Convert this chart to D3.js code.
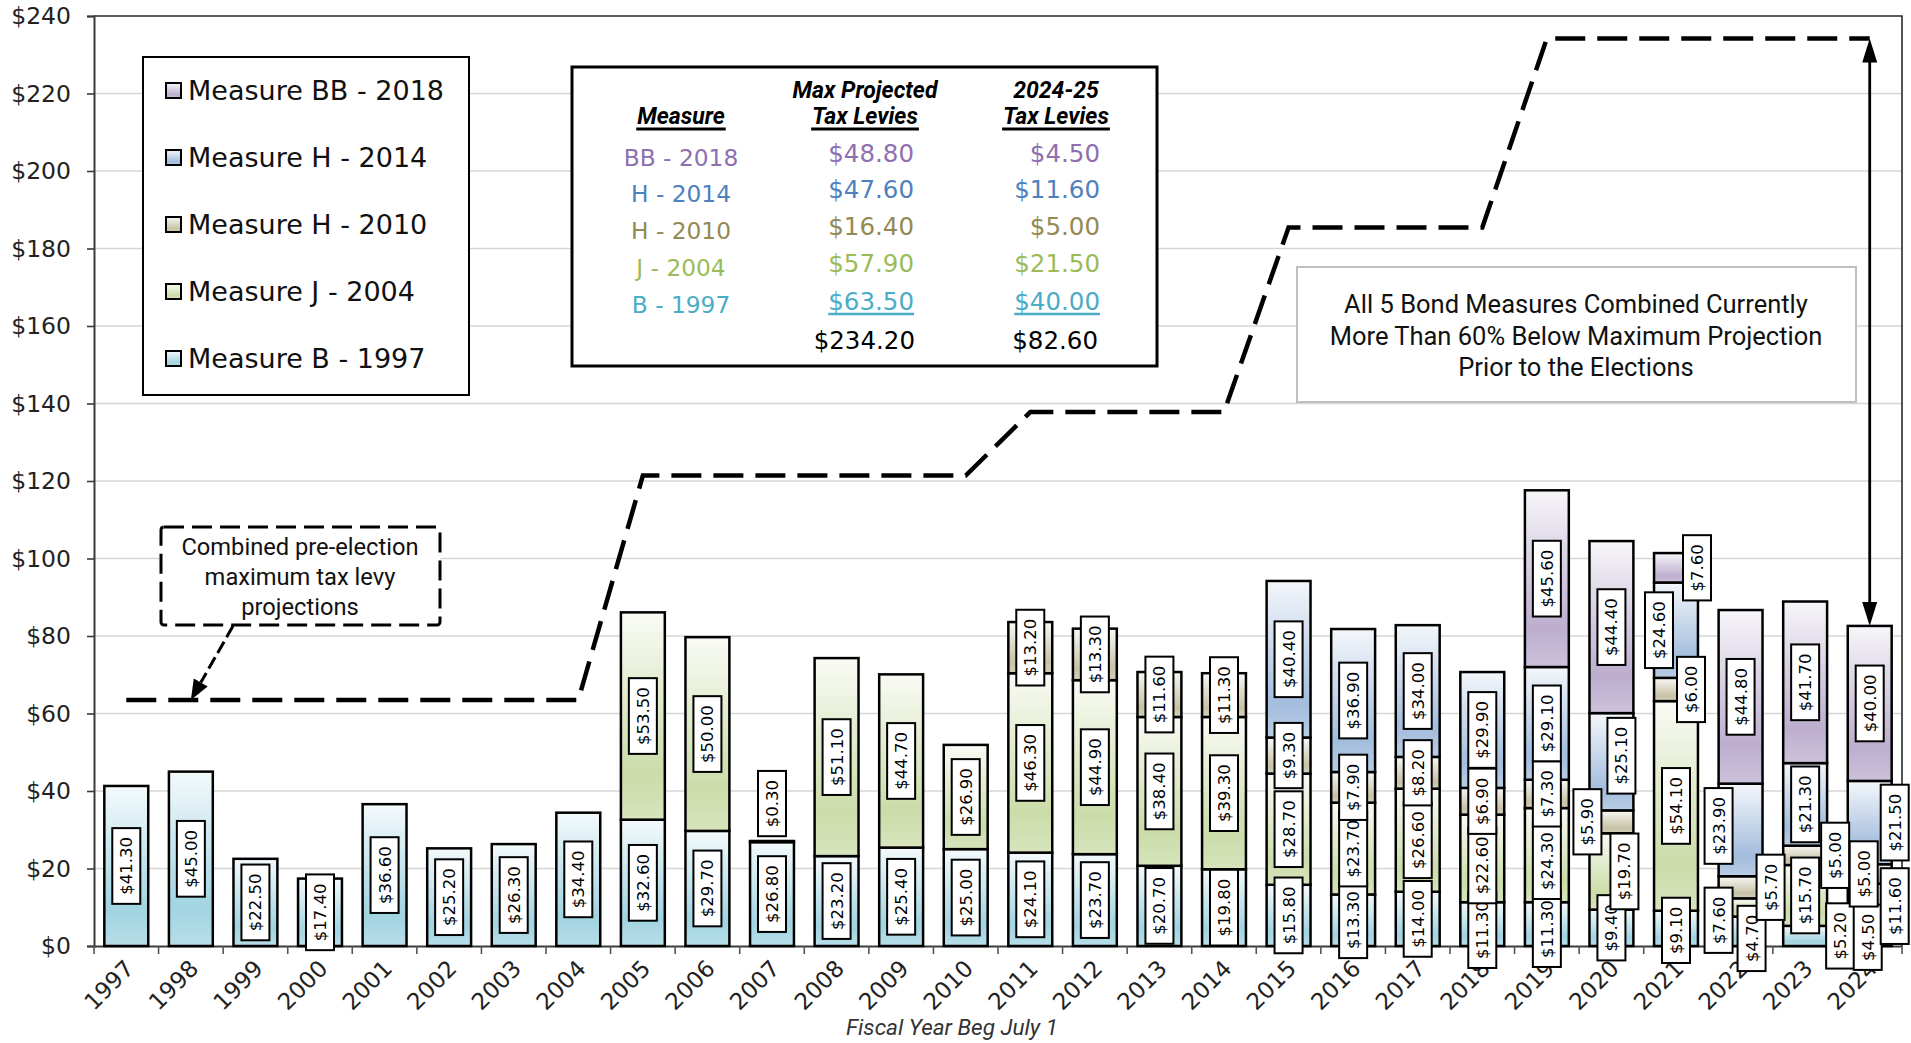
<!DOCTYPE html>
<html>
<head>
<meta charset="utf-8">
<title>Bond Measure Tax Levies</title>
<script src="https://cdn.jsdelivr.net/npm/d3@7/dist/d3.min.js"></script>
<style>
  html, body { margin: 0; padding: 0; background: #ffffff; }
  svg { display: block; }
</style>
</head>
<body>
<svg id="chart" width="1911" height="1043"></svg>
<script>
// ---- Data -------------------------------------------------------------
const years = ["1997","1998","1999","2000","2001","2002","2003","2004","2005","2006",
  "2007","2008","2009","2010","2011","2012","2013","2014","2015","2016",
  "2017","2018","2019","2020","2021","2022","2023","2024"];

// Annual tax levy per bond measure (dollars), stacked bottom to top
const measureB1997 = [41.30,45.00,22.50,17.40,36.60,25.20,26.30,34.40,32.60,29.70,
  26.80,23.20,25.40,25.00,24.10,23.70,20.70,19.80,15.80,13.30,
  14.00,11.30,11.30,9.40,9.10,7.60,5.20,4.50];
const measureJ2004 = [0,0,0,0,0,0,0,0,53.50,50.00,
  0.30,51.10,44.70,26.90,46.30,44.90,38.40,39.30,28.70,23.70,
  26.60,22.60,24.30,19.70,54.10,4.70,15.70,11.60];
const measureH2010 = [0,0,0,0,0,0,0,0,0,0,
  0,0,0,0,13.20,13.30,11.60,11.30,9.30,7.90,
  8.20,6.90,7.30,5.90,6.00,5.70,5.00,5.00];
const measureH2014 = [0,0,0,0,0,0,0,0,0,0,
  0,0,0,0,0,0,0,0,40.40,36.90,
  34.00,29.90,29.10,25.10,24.60,23.90,21.30,21.50];
const measureBB2018 = [0,0,0,0,0,0,0,0,0,0,
  0,0,0,0,0,0,0,0,0,0,
  0,0,45.60,44.40,7.60,44.80,41.70,40.00];

// Combined pre-election maximum tax levy projection per year
const maxProjection = [63.50,63.50,63.50,63.50,63.50,63.50,63.50,63.50,121.40,121.40,
  121.40,121.40,121.40,121.40,137.80,137.80,137.80,137.80,185.40,185.40,
  185.40,185.40,234.20,234.20,234.20,234.20,234.20,234.20];

// Summary table
const tableMeasures = ["BB - 2018","H - 2014","H - 2010","J - 2004","B - 1997"];
const tableMaxLevies = [48.80,47.60,16.40,57.90,63.50];
const tableCurrentLevies = [4.50,11.60,5.00,21.50,40.00];

const legendNames = ["Measure BB - 2018","Measure H - 2014","Measure H - 2010","Measure J - 2004","Measure B - 1997"];
const yTicks = [0,20,40,60,80,100,120,140,160,180,200,220,240];

// ---- Series styling ---------------------------------------------------
const seriesKeys = ["B","J","H10","H14","BB"];           // bottom -> top
const seriesValues = [measureB1997, measureJ2004, measureH2010, measureH2014, measureBB2018];
const seriesColors = { B:"#4BACC6", J:"#9BBB59", H10:"#948A54", H14:"#4F81BD", BB:"#8064A2" };
const tableColors = ["#8E6FB2","#4F81BD","#948A54","#9BBB59","#4BACC6"];
const legendKeys = ["BB","H14","H10","J","B"];

// Hand-placed data label offsets (px) where labels would collide
const labelNudge = {
  "2007|J":[0,-38],
  "2018|B":[0,6], "2018|J":[0,7],
  "2019|J":[0,6], "2019|B":[0,5],
  "2020|H14":[10,-6], "2020|H10":[-24,0], "2020|J":[13,0],
  "2021|H10":[15,0], "2021|H14":[-17,0], "2021|BB":[21,0], "2021|B":[0,2],
  "2022|H14":[-22,-4], "2022|H10":[30,0], "2022|J":[11,31], "2022|B":[-22,-11],
  "2023|H10":[30,0], "2023|B":[35,0],
  "2024|H14":[25,0], "2024|H10":[-6,0], "2024|J":[25,0], "2024|B":[-2,0]
};

const NUM_FONT = "'DejaVu Sans', sans-serif";
const TXT_FONT = "Roboto, 'Noto Sans', sans-serif";

// ---- Layout -----------------------------------------------------------
const svg = d3.select("#chart");
const plot = { left: 94, right: 1902, top: 16, bottom: 946 };

const x = d3.scaleBand().domain(years)
  .range([plot.left, plot.right]).paddingInner(0.32).paddingOuter(0.16);
const y = d3.scaleLinear().domain([0, 240]).range([plot.bottom, plot.top]);
const cx = yr => x(yr) + x.bandwidth() / 2;

const rows = years.map((yr, i) => {
  const r = { year: yr };
  seriesKeys.forEach((k, j) => r[k] = seriesValues[j][i]);
  return r;
});
const stacked = d3.stack().keys(seriesKeys)(rows);

// Gradients (light at top, deeper toward the base)
const defs = svg.append("defs");
const tint = (c, t) => d3.interpolateRgb(c, "#ffffff")(t);
seriesKeys.forEach(k => {
  const g = defs.append("linearGradient").attr("id", "grad-" + k)
    .attr("x1", 0).attr("y1", 0).attr("x2", 0).attr("y2", 1);
  g.append("stop").attr("offset", "0%").attr("stop-color", tint(seriesColors[k], 0.94));
  g.append("stop").attr("offset", "78%").attr("stop-color", tint(seriesColors[k], 0.48));
  g.append("stop").attr("offset", "100%").attr("stop-color", tint(seriesColors[k], 0.6));
});

// Gridlines
svg.append("g").selectAll("line")
  .data(yTicks.filter(t => t > 0 && t < 240)).join("line")
  .attr("x1", plot.left).attr("x2", plot.right)
  .attr("y1", d => y(d)).attr("y2", d => y(d))
  .attr("stroke", "#D6D6D6").attr("stroke-width", 1.5);

// Plot border (top / right)
svg.append("path")
  .attr("d", `M${plot.left},${y(240)}H${plot.right}V${plot.bottom}`)
  .attr("fill", "none").attr("stroke", "#2a2a2a").attr("stroke-width", 1.6);

// Y axis
const yAxis = svg.append("g").attr("transform", `translate(${plot.left},0)`)
  .call(d3.axisLeft(y).tickValues(yTicks).tickFormat(d => "$" + d).tickSize(7).tickPadding(16));
yAxis.select(".domain").attr("stroke", "#3a3a3a").attr("stroke-width", 2);
yAxis.selectAll(".tick line").attr("stroke", "#3a3a3a").attr("stroke-width", 1.6);
yAxis.selectAll(".tick text").attr("font-family", NUM_FONT).attr("font-size", 23.5)
  .attr("fill", "#222");

// X axis: line, boundary ticks, rotated year labels
const xAxis = svg.append("g").attr("transform", `translate(0,${plot.bottom})`)
  .call(d3.axisBottom(x).tickSize(0).tickFormat(""));
xAxis.select(".domain").attr("stroke", "#3a3a3a").attr("stroke-width", 2);
svg.append("g").selectAll("line")
  .data(d3.range(years.length + 1)).join("line")
  .attr("x1", i => plot.left + i * x.step()).attr("x2", i => plot.left + i * x.step())
  .attr("y1", plot.bottom).attr("y2", plot.bottom + 8)
  .attr("stroke", "#555").attr("stroke-width", 1.6);
svg.append("g").selectAll("text").data(years).join("text")
  .attr("transform", d => `translate(${cx(d) + 9},${plot.bottom + 24}) rotate(-45)`)
  .attr("text-anchor", "end")
  .attr("font-family", NUM_FONT).attr("font-size", 23).attr("fill", "#222")
  .text(d => d);

svg.append("text").attr("x", 952).attr("y", 1035).attr("text-anchor", "middle")
  .attr("font-family", TXT_FONT).attr("font-style", "italic").attr("font-size", 22.5)
  .attr("fill", "#333").text("Fiscal Year Beg July 1");

// Stacked bars
const barG = svg.append("g");
stacked.forEach(layer => {
  barG.append("g").selectAll("rect")
    .data(layer.filter(d => d[1] - d[0] > 0)).join("rect")
    .attr("x", d => x(d.data.year)).attr("width", x.bandwidth())
    .attr("y", d => y(d[1])).attr("height", d => y(d[0]) - y(d[1]))
    .attr("fill", `url(#grad-${layer.key})`)
    .attr("stroke", "#000").attr("stroke-width", 2.5);
});

// Maximum projection step line
svg.append("path")
  .datum(maxProjection.map((v, i) => [cx(years[i]), y(v)]))
  .attr("d", d3.line())
  .attr("fill", "none").attr("stroke", "#000").attr("stroke-width", 4.5)
  .attr("stroke-dasharray", "30,12");

// Data labels
const labelG = svg.append("g");
stacked.forEach(layer => {
  layer.filter(d => d[1] - d[0] > 0).forEach(d => {
    const nudge = labelNudge[d.data.year + "|" + layer.key] || [0, 0];
    const g = labelG.append("g")
      .attr("transform", `translate(${cx(d.data.year) + nudge[0]},${y((d[0] + d[1]) / 2) + nudge[1]}) rotate(-90)`);
    const rect = g.append("rect");
    const t = g.append("text").attr("text-anchor", "middle").attr("dy", "0.36em")
      .attr("font-family", NUM_FONT).attr("font-size", 16.5).attr("fill", "#000")
      .text("$" + (d[1] - d[0]).toFixed(2));
    const len = t.node().getComputedTextLength();
    rect.attr("x", -len / 2 - 9).attr("y", -14).attr("width", len + 18).attr("height", 28)
      .attr("fill", "#fff").attr("stroke", "#000").attr("stroke-width", 2);
  });
});

// Arrow helper: filled triangular head at (tx,ty) pointing from (fx,fy)
function arrowHead(g, fx, fy, tx, ty, len, half) {
  const a = Math.atan2(ty - fy, tx - fx);
  const bx = tx - len * Math.cos(a), by = ty - len * Math.sin(a);
  const px = -Math.sin(a) * half, py = Math.cos(a) * half;
  g.append("path").attr("d", `M${tx},${ty}L${bx + px},${by + py}L${bx - px},${by - py}Z`)
    .attr("fill", "#000");
  return [bx, by];
}

// Double-headed arrow from the projection line to the latest bar top
const last = years[years.length - 1];
const lastTotal = stacked[stacked.length - 1][years.length - 1][1];
const arrG = svg.append("g");
const ax = cx(last), aTop = y(maxProjection[years.length - 1]), aBot = y(lastTotal);
arrG.append("line").attr("x1", ax).attr("x2", ax).attr("y1", aTop + 20).attr("y2", aBot - 20)
  .attr("stroke", "#000").attr("stroke-width", 2.8);
arrowHead(arrG, ax, aBot, ax, aTop, 24, 7.5);
arrowHead(arrG, ax, aTop, ax, aBot, 24, 7.5);

// Legend
const legG = svg.append("g");
legG.append("rect").attr("x", 143).attr("y", 57).attr("width", 326).attr("height", 338)
  .attr("fill", "#fff").attr("stroke", "#000").attr("stroke-width", 2);
legendNames.forEach((name, i) => {
  const yy = 90 + i * 67;
  legG.append("rect").attr("x", 166).attr("y", yy - 7).attr("width", 15).attr("height", 15)
    .attr("fill", `url(#grad-${legendKeys[i]})`).attr("stroke", "#000").attr("stroke-width", 2);
  legG.append("text").attr("x", 188).attr("y", yy + 10)
    .attr("font-family", NUM_FONT).attr("font-size", 27).attr("fill", "#111").text(name);
});

// Summary table
const tabG = svg.append("g");
tabG.append("rect").attr("x", 572).attr("y", 67).attr("width", 585).attr("height", 299)
  .attr("fill", "#fff").attr("stroke", "#000").attr("stroke-width", 3);
function header(txt, xx, yy, underline) {
  const t = tabG.append("text").attr("x", xx).attr("y", yy).attr("text-anchor", "middle")
    .attr("font-family", TXT_FONT).attr("font-weight", "bold").attr("font-style", "italic")
    .attr("font-size", 23).attr("fill", "#000").text(txt);
  if (underline) {
    const w = t.node().getComputedTextLength();
    tabG.append("line").attr("x1", xx - w / 2 - 1).attr("x2", xx + w / 2 + 1)
      .attr("y1", yy + 5).attr("y2", yy + 5).attr("stroke", "#000").attr("stroke-width", 3);
  }
}
header("Measure", 681, 124, true);
header("Max Projected", 865, 98, false);
header("Tax Levies", 865, 124, true);
header("2024-25", 1056, 98, false);
header("Tax Levies", 1056, 124, true);

const valueBase = [162, 198, 235, 272, 310];
const measureBase = [166, 202, 238.5, 276, 312.5];
tableMeasures.forEach((m, i) => {
  tabG.append("text").attr("x", 681).attr("y", measureBase[i]).attr("text-anchor", "middle")
    .attr("font-family", NUM_FONT).attr("font-size", 23.3).attr("fill", tableColors[i]).text(m);
  [[tableMaxLevies[i], 914], [tableCurrentLevies[i], 1100]].forEach(([v, xr]) => {
    const t = tabG.append("text").attr("x", xr).attr("y", valueBase[i]).attr("text-anchor", "end")
      .attr("font-family", NUM_FONT).attr("font-size", 24.5).attr("fill", tableColors[i])
      .text("$" + v.toFixed(2));
    if (i === tableMeasures.length - 1) {
      const w = t.node().getComputedTextLength();
      tabG.append("line").attr("x1", xr - w).attr("x2", xr).attr("y1", valueBase[i] + 4)
        .attr("y2", valueBase[i] + 4).attr("stroke", tableColors[i]).attr("stroke-width", 2.5);
    }
  });
});
[[d3.sum(tableMaxLevies), 915], [d3.sum(tableCurrentLevies), 1098]].forEach(([v, xr]) => {
  tabG.append("text").attr("x", xr).attr("y", 348.5).attr("text-anchor", "end")
    .attr("font-family", NUM_FONT).attr("font-size", 24.5).attr("fill", "#000")
    .text("$" + v.toFixed(2));
});

// Callout: combined projection
const callG = svg.append("g");
callG.append("rect").attr("x", 161).attr("y", 527).attr("width", 279).attr("height", 98).attr("rx", 3)
  .attr("fill", "#fff").attr("stroke", "#000").attr("stroke-width", 3)
  .attr("stroke-dasharray", "20,8");
["Combined pre-election", "maximum tax levy", "projections"].forEach((s, i) => {
  callG.append("text").attr("x", 300).attr("y", 555 + i * 30).attr("text-anchor", "middle")
    .attr("font-family", TXT_FONT).attr("font-size", 23.7).attr("fill", "#111").text(s);
});
const tipX = cx(years[1]), tipY = y(maxProjection[1]);
const base = arrowHead(callG, 233, 626, tipX, tipY, 20, 8);
callG.append("line").attr("x1", 233).attr("y1", 626).attr("x2", base[0]).attr("y2", base[1])
  .attr("stroke", "#000").attr("stroke-width", 3).attr("stroke-dasharray", "13,5");

// Note box
const noteG = svg.append("g");
noteG.append("rect").attr("x", 1297).attr("y", 267).attr("width", 559).attr("height", 135)
  .attr("fill", "#fff").attr("stroke", "#BFBFBF").attr("stroke-width", 2);
["All 5 Bond Measures Combined Currently", "More Than 60% Below Maximum Projection",
 "Prior to the Elections"].forEach((s, i) => {
  noteG.append("text").attr("x", 1576).attr("y", 313 + i * 31.7).attr("text-anchor", "middle")
    .attr("font-family", TXT_FONT).attr("font-size", 25.5).attr("fill", "#111").text(s);
});
</script>
</body>
</html>
